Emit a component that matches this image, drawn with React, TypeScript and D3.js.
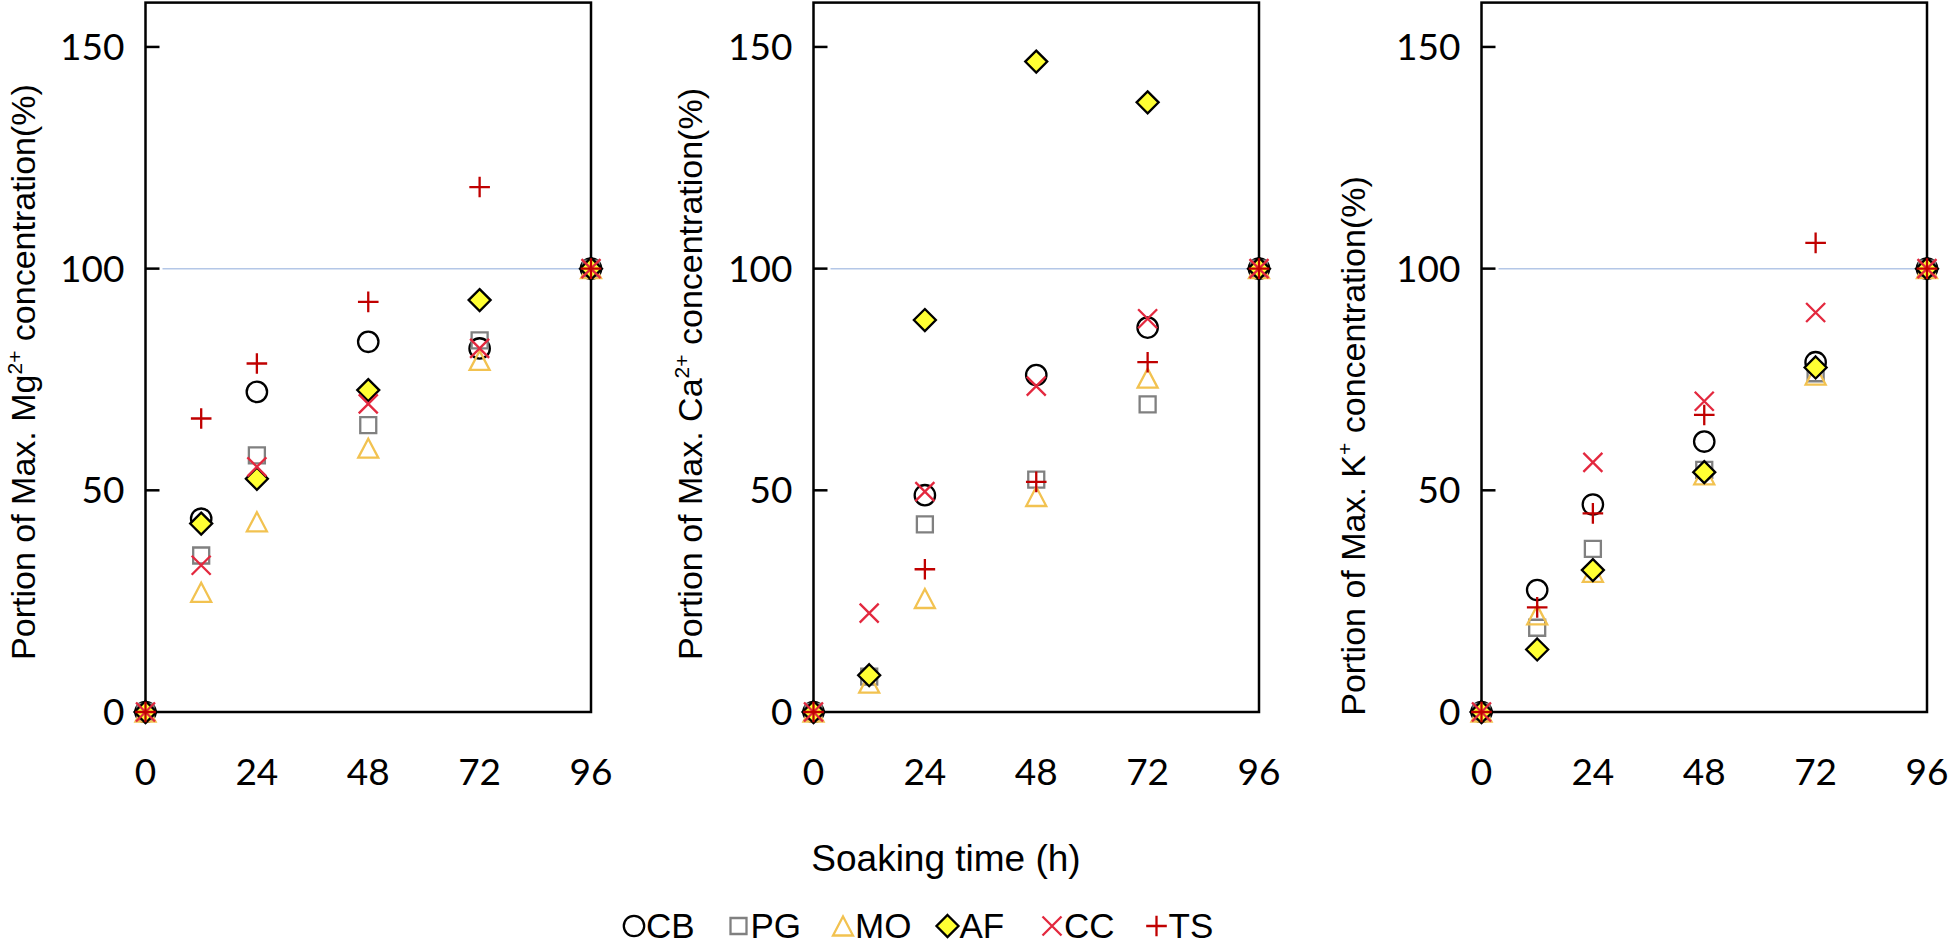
import * as d3 from 'd3'

// sampling times (h)
const times = [0, 12, 24, 48, 72, 96]
const seriesNames = ['CB', 'PG', 'MO', 'AF', 'CC', 'TS']
const xTicks = [0, 24, 48, 72, 96]
const yTicks = [0, 50, 100, 150]

// values per series, same order as seriesNames (null = point not visible)
const mgValues: (number | null)[][] = [
  [0, 43.6, 72.2, 83.5, 82.0, 100],
  [0, 35.3, 57.9, 64.7, 83.8, 100],
  [0, 27.0, 42.9, 59.5, 79.3, 100],
  [0, 42.5, 52.6, 72.6, 92.9, 100],
  [0, 33.1, 55.3, 69.5, 82.0, 100],
  [0, 66.2, 78.6, 92.5, 118.4, 100],
]
const caValues: (number | null)[][] = [
  [0, null, 48.9, 76.0, 86.7, 100],
  [0, 8.0, 42.3, 52.4, 69.4, 100],
  [0, 6.5, 25.6, 48.6, 75.3, 100],
  [0, 8.3, 88.4, 146.7, 137.5, 100],
  [0, 22.3, 49.7, 73.5, 88.7, 100],
  [0, null, 32.2, 51.9, 78.9, 100],
]
const kValues: (number | null)[][] = [
  [0, 27.5, 46.8, 61.0, 78.9, 100],
  [0, 19.0, 36.8, 54.6, 76.4, 100],
  [0, 21.9, 31.5, 53.5, 76.0, 100],
  [0, 14.1, 32.0, 54.1, 77.7, 100],
  [0, null, 56.3, 70.1, 90.1, 100],
  [0, 23.6, 44.8, 67.0, 105.8, 100],
]

const ions = [
  { ion: 'Mg', charge: '2+', values: mgValues },
  { ion: 'Ca', charge: '2+', values: caValues },
  { ion: 'K', charge: '+', values: kValues },
]

// layout
const W = 445.5
const panelLeft = [145.5, 813.5, 1481.5]
const titleDx = [-122, -123, -128]
const titleY = [372, 374, 446]
const Y0 = 712
const YTOP = 2.6

const markerStyle: Record<string, { stroke: string; fill: string }> = {
  CB: { stroke: '#000000', fill: 'none' },
  PG: { stroke: '#808080', fill: 'none' },
  MO: { stroke: '#F2C250', fill: 'none' },
  AF: { stroke: '#000000', fill: '#FFFF33' },
  CC: { stroke: '#E3283E', fill: 'none' },
  TS: { stroke: '#C00000', fill: 'none' },
}

function markerPath(name: string): string {
  const p = d3.path()
  switch (name) {
    case 'CB':
      p.moveTo(10.2, 0)
      p.arc(0, 0, 10.2, 0, Math.PI * 2)
      break
    case 'PG':
      p.rect(-8, -8, 16, 16)
      break
    case 'MO':
      p.moveTo(0, -9.5)
      p.lineTo(10, 9.5)
      p.lineTo(-10, 9.5)
      p.closePath()
      break
    case 'AF':
      p.moveTo(0, -11)
      p.lineTo(11, 0)
      p.lineTo(0, 11)
      p.lineTo(-11, 0)
      p.closePath()
      break
    case 'CC':
      p.moveTo(-9.5, -9.5)
      p.lineTo(9.5, 9.5)
      p.moveTo(9.5, -9.5)
      p.lineTo(-9.5, 9.5)
      break
    default:
      p.moveTo(-10.3, 0)
      p.lineTo(10.3, 0)
      p.moveTo(0, -10.3)
      p.lineTo(0, 10.3)
  }
  return p.toString()
}

function Marker({ name, x, y }: { name: string; x: number; y: number }) {
  const st = markerStyle[name]
  return (
    <path
      d={markerPath(name)}
      transform={`translate(${x},${y})`}
      fill={st.fill}
      stroke={st.stroke}
      strokeWidth={2.3}
    />
  )
}

function Panel({ index }: { index: number }) {
  const x0 = panelLeft[index]
  const { ion, charge, values } = ions[index]
  const x = d3.scaleLinear().domain([0, 96]).range([x0, x0 + W])
  const y = d3.scaleLinear().domain([0, 160]).range([Y0, YTOP])
  const tx = x0 + titleDx[index]
  const ty = titleY[index]

  return (
    <g>
      <line x1={x0 + 17} x2={x0 + W} y1={y(100)} y2={y(100)} stroke="#B4C7E7" strokeWidth={1.5} />
      <rect x={x0} y={YTOP} width={W} height={Y0 - YTOP} fill="none" stroke="#000" strokeWidth={2.5} />
      {yTicks.slice(1).map((t) => (
        <line key={t} x1={x0} x2={x0 + 14} y1={y(t)} y2={y(t)} stroke="#000" strokeWidth={2.5} />
      ))}
      {yTicks.map((t) => (
        <text key={t} x={x0 - 21} y={y(t)} dy="0.35em" textAnchor="end"
          fontFamily="Lato" fontSize={37} fill="#000">{t}</text>
      ))}
      {xTicks.map((t) => (
        <text key={t} x={x(t)} y={772} dy="0.35em" textAnchor="middle"
          fontFamily="Lato" fontSize={37} fill="#000">{t}</text>
      ))}
      <text transform={`translate(${tx},${ty}) rotate(-90)`} textAnchor="middle" dy="0.35em"
        fontFamily="Liberation Sans" fontSize={34} fill="#000">
        Portion of Max. {ion}
        <tspan dy={-13} fontSize={21}>{charge}</tspan>
        <tspan dy={13}> concentration(%)</tspan>
      </text>
      {seriesNames.map((s, si) => (
        <g key={s}>
          {times.map((t, ti) => {
            const v = values[si][ti]
            if (v === null) return null
            return <Marker key={t} name={s} x={x(t)} y={y(v)} />
          })}
        </g>
      ))}
    </g>
  )
}

export default function App() {
  return (
    <svg width={1950} height={950} style={{ position: 'absolute', left: 0, top: 0, background: '#fff' }}>
      {ions.map((_, i) => <Panel key={i} index={i} />)}
      <text x={946} y={858} dy="0.35em" textAnchor="middle" fontFamily="Liberation Sans" fontSize={37}>
        Soaking time (h)
      </text>
      {seriesNames.map((s, i) => {
        const cx = 634 + i * 104.5
        return (
          <g key={s}>
            <Marker name={s} x={cx} y={926} />
            <text x={cx + 12} y={926} dy="0.35em" fontFamily="Liberation Sans" fontSize={35}>{s}</text>
          </g>
        )
      })}
    </svg>
  )
}
